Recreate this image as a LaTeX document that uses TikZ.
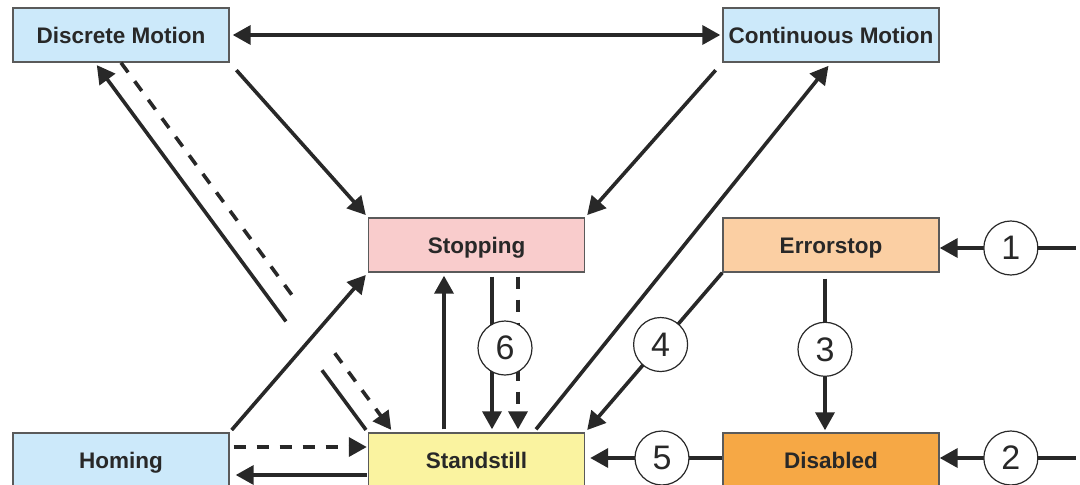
\documentclass[tikz,border=0pt]{standalone}
\usepackage{fontspec}
\setmainfont{Liberation Sans}
\usetikzlibrary{arrows.meta,calc,positioning}
\definecolor{MotionBlue}{RGB}{204,233,250}
\definecolor{StopPink}{RGB}{249,204,204}
\definecolor{ErrOrange}{RGB}{251,207,163}
\definecolor{StillYellow}{RGB}{250,243,160}
\definecolor{DisOrange}{RGB}{246,168,69}
\definecolor{LineGray}{RGB}{40,40,40}
\definecolor{EdgeGray}{RGB}{90,90,90}

\begin{document}
\begin{tikzpicture}[x=1pt,y=-1pt,>={Triangle[length=18pt,width=19pt]},
    state/.style={draw=EdgeGray,line width=1.4pt,minimum width=216pt,minimum height=54pt,
      inner sep=0pt,text height=16pt,text depth=0pt,
      font=\fontsize{22.5}{27}\selectfont\bfseries,text=LineGray},
    conn/.style={draw=LineGray,line width=3.6pt},
    dashconn/.style={conn,dash pattern=on 12pt off 11pt},
    num/.style={circle,draw=LineGray,line width=1.2pt,fill=white,minimum size=54pt,
      inner sep=0pt,font=\fontsize{34}{34}\selectfont,text=LineGray}]
      \useasboundingbox (0,0) rectangle (1080,485);
      % states
      \node[state,fill=MotionBlue] (dm) at (121,35) {Discrete Motion};
      \node[state,fill=MotionBlue] (cm) at (831,35) {Continuous Motion};
      \node[state,fill=StopPink] (stop) at (476.5,245) {Stopping};
      \node[state,fill=ErrOrange] (err) at (831,245) {Errorstop};
      \node[state,fill=MotionBlue] (hom) at (121,460) {Homing};
      \node[state,fill=StillYellow] (ss) at (476.5,460) {Standstill};
      \node[state,fill=DisOrange] (dis) at (831,460) {Disabled};
      \coordinate (in1) at (1076,248);
      \coordinate (in2) at (1076,458);
      \coordinate (dmA) at ([xshift=-26pt]dm.south);
      \coordinate (ssA) at ([xshift=-83.5pt]ss.north);
      % motion transitions
      \draw[conn,<->,shorten <=3pt,shorten >=2pt] (dm) -- (cm);
      \draw[conn,->,shorten <=10pt,shorten >=3pt] (dm.south east) -- (stop.north west);
      \draw[conn,->,shorten <=10pt,shorten >=3pt] (cm.south west) -- (stop.north east);
      \draw[conn,->,shorten >=4pt] ([xshift=59.5pt,yshift=3pt]ss.north) -- (cm.south);
      \draw[conn,->,shorten <=3pt,shorten >=3pt] (hom.north east) -- (stop.south west);
      \draw[conn,shorten <=3pt] (ss.north west) -- ($(ss.north west)!0.168!(dmA)$);
      \draw[conn,->,shorten >=3pt] ($(ss.north west)!0.30!(dmA)$) -- (dmA);
      \draw[dashconn] (dm.south) -- ($(dm.south)!0.63!(ssA)$);
      \draw[dashconn,->,shorten >=3pt] ($(dm.south)!0.786!(ssA)$) -- (ssA);
      % standstill and stopping
      \draw[conn,->,shorten <=3pt,shorten >=3pt] ([xshift=-32.5pt]ss.north) -- ([xshift=-32.5pt]stop.south);
      \draw[conn,->,shorten <=4pt,shorten >=3pt] ([xshift=15.5pt]stop.south) -- ([xshift=15.5pt]ss.north);
      \draw[dashconn,->,shorten <=4pt,shorten >=3pt] ([xshift=41.5pt]stop.south) -- ([xshift=41.5pt]ss.north);
      \node[num] (n6) at (505,348) {6};
      \draw[dashconn,->,shorten <=4pt,shorten >=1pt] ([yshift=13pt]hom.east) -- ([yshift=13pt]ss.west);
      \draw[conn,->,shorten <=1pt,shorten >=6pt] ([yshift=-15pt]ss.west) -- ([yshift=-15pt]hom.east);
      % error handling
      \draw[conn,->,shorten >=3pt] (err.south west) -- node[num,pos=0.45] (n4) {4} (ss.north east);
      \draw[conn,->,shorten <=6pt,shorten >=2pt] ([xshift=-6pt]err.south) -- node[num,pos=0.48] (n3) {3} ([xshift=-6pt]dis.north);
      \draw[conn,->,shorten >=5pt] ([yshift=2pt]dis.west) -- node[num,pos=0.44] (n5) {5} ([yshift=2pt]ss.east);
      \draw[conn,->] (in1) -- node[num,pos=0.478] (n1) {1} (in1 -| err.east);
      \draw[conn,->] (in2) -- node[num,pos=0.478] (n2) {2} (in2 -| dis.east);
    \end{tikzpicture}
\end{document}
